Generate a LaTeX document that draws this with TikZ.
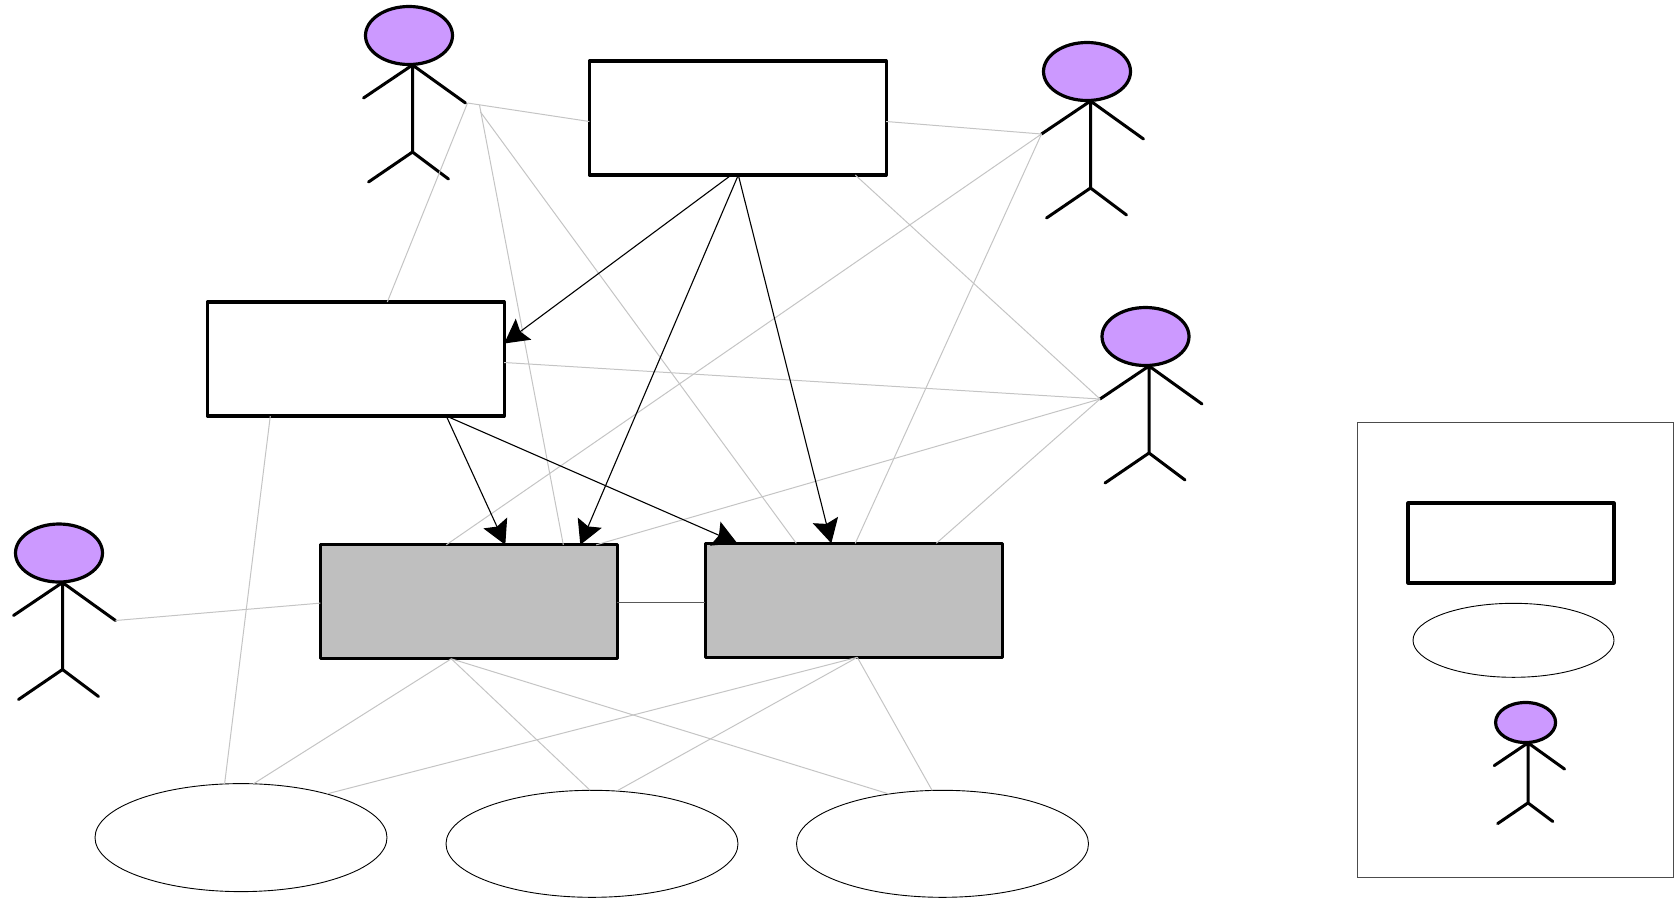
\documentclass[tikz,border=0pt]{standalone}
\usetikzlibrary{arrows.meta,shapes.geometric}
\definecolor{actorfill}{HTML}{CC99FF}
\definecolor{linkgray}{HTML}{C4C4C4}
\definecolor{boxgray}{HTML}{BFBFBF}
\tikzset{
  boxnode/.style={draw=black,line width=3.2pt,rectangle,inner sep=0pt,outer sep=0pt,fill=white,line join=round,minimum width=296.8pt,minimum height=114pt},
  grayboxnode/.style={boxnode,fill=boxgray},
  ovalnode/.style={draw=black,line width=0.9pt,ellipse,inner sep=0pt,outer sep=0pt,fill=white,minimum width=292pt,minimum height=107pt},
  framenode/.style={draw=black!70,line width=1pt,rectangle,inner sep=0pt,outer sep=0pt,minimum width=316pt,minimum height=455pt},
  headnode/.style={draw=black,line width=3.2pt,ellipse,inner sep=0pt,outer sep=0pt,fill=actorfill,minimum width=87pt,minimum height=58pt},
  stick/.style={draw=black,line width=3pt,line cap=round,line join=round},
  linkline/.style={draw=linkgray,line width=1pt},
  midline/.style={draw=black!65,line width=1.2pt},
  flowline/.style={draw=black,line width=1.1pt,-{Stealth[length=24pt,width=26pt,inset=4pt]}}
}
\newcommand{\actorfig}[4]{%
  \begin{scope}[shift={(#2,#3)},scale=#4,transform shape]
    \node[headnode] (#1) at (-3.5,35.5) {};
    \coordinate (#1neck) at (0,65);
    \coordinate (#1hip) at (0,152);
    \coordinate (#1handL) at (-49,98);
    \coordinate (#1handR) at (53,103);
    \coordinate (#1footL) at (-44,182);
    \coordinate (#1footR) at (36,179);
    \draw[stick] (#1neck) -- (#1hip) (#1handL) -- (#1neck) -- (#1handR) (#1footL) -- (#1hip) -- (#1footR);
  \end{scope}%
}
\begin{document}
\begin{tikzpicture}[x=1pt,y=-1pt]
\useasboundingbox (0,0) rectangle (1680,898);
% boxes
\node[boxnode] (top) at (737.8,118) {};
\node[boxnode] (left) at (355.8,359) {};
\node[grayboxnode] (gone) at (468.8,601.8) {};
\node[grayboxnode] (gtwo) at (853.8,600.3) {};
\node[ovalnode,minimum height=108pt] (eone) at (241,837.6) {};
\node[ovalnode] (etwo) at (592,843.8) {};
\node[ovalnode] (ethree) at (942.5,843.8) {};
% legend
\node[framenode] (frame) at (1515,649.5) {};
\node[boxnode,minimum width=206pt,minimum height=80pt] (lrect) at (1511,543) {};
\node[ovalnode,minimum width=201pt,minimum height=74pt] (loval) at (1513.5,640.3) {};
% actors
\actorfig{aone}{412.5}{0}{1}
\actorfig{atwo}{1090.5}{36}{1}
\actorfig{athree}{1149}{301}{1}
\actorfig{afour}{62.5}{517.5}{1}
\actorfig{alegend}{1528}{698}{0.69}
\coordinate (aoneA) at ([xshift=2pt]aonehandR);
\coordinate (aoneB) at ([xshift=14pt,yshift=-2pt]aonehandR);
\coordinate (aoneC) at ([xshift=15pt,yshift=-9pt]aonehandR);
% gray links
\draw[linkline] (aoneA) -- ([yshift=-3.5pt]top.west);
\draw[linkline] (aoneA) -- ([xshift=31.5pt]left.north);
\draw[linkline] (aoneB) -- ([xshift=94.5pt]gone.north);
\draw[linkline] (aoneC) -- ([xshift=-57.5pt]gtwo.north);
\draw[linkline] ([yshift=-3.5pt]top.east) -- (atwohandL);
\draw[linkline] ([xshift=117.5pt]top.south) -- (athreehandL);
\draw[linkline] (atwohandL) -- ([xshift=-22.5pt]gone.north);
\draw[linkline] (atwohandL) -- ([xshift=1.5pt]gtwo.north);
\draw[linkline] ([yshift=-3.5pt]left.east) -- (athreehandL);
\draw[linkline] (athreehandL) -- ([xshift=127.5pt]gone.north);
\draw[linkline] (athreehandL) -- ([xshift=82.5pt]gtwo.north);
\draw[linkline] ([xshift=-85.5pt]left.south) -- (eone.107.5);
\draw[linkline] (afourhandR) -- ([yshift=-1.3pt]gone.west);
\draw[midline] ([yshift=-0.8pt]gone.east) -- ([yshift=-2.3pt]gtwo.west);
\draw[linkline] ([xshift=-17.5pt]gone.south) -- (eone.77.5);
\draw[linkline] ([xshift=-17.5pt]gone.south) -- (etwo.92);
\draw[linkline] ([xshift=-17.5pt]gone.south) -- (ethree.137.2);
\draw[linkline] ([xshift=3.5pt]gtwo.south) -- (eone.27.1);
\draw[linkline] ([xshift=3.5pt]gtwo.south) -- (etwo.65.8);
\draw[linkline] ([xshift=3.5pt]gtwo.south) -- (ethree.101);
% black arrows
\draw[flowline] ([xshift=-6.5pt]top.south) -- ([yshift=15.5pt]left.east);
\draw[flowline] ([xshift=0.5pt]top.south) -- ([xshift=111.5pt]gone.north);
\draw[flowline] ([xshift=0.5pt]top.south) -- ([xshift=-22.5pt]gtwo.north);
\draw[flowline] ([xshift=90.5pt]left.south) -- ([xshift=36.5pt]gone.north);
\draw[flowline] ([xshift=90.5pt]left.south) -- ([xshift=-116.5pt]gtwo.north);
\end{tikzpicture}
\end{document}
